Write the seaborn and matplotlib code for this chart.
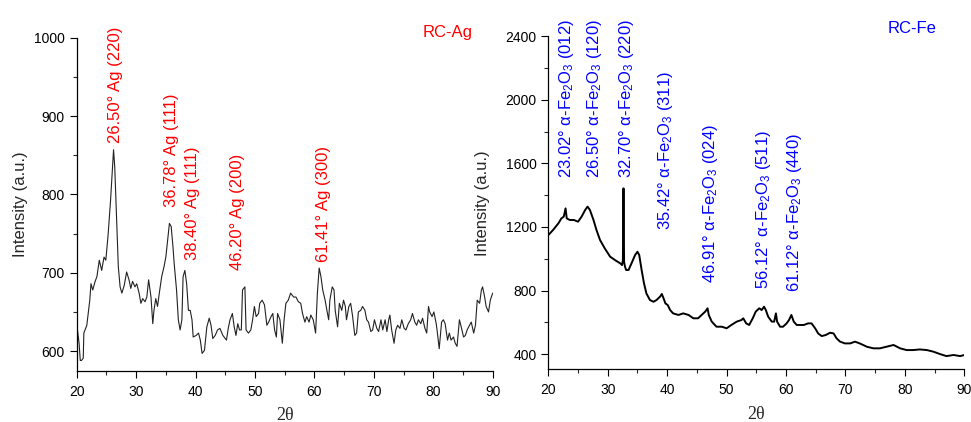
import matplotlib
matplotlib.use("Agg")
import matplotlib.pyplot as plt
from matplotlib.ticker import MultipleLocator
import numpy as np
import pandas as pd
import seaborn as sns

# ---- RC-Ag diffractogram (2θ in degrees, intensity in a.u.) ----
ag_theta = [20.0, 20.4, 20.6, 20.8, 21.1, 21.2, 21.7, 22.2, 22.4, 22.7, 23.1, 23.4, 23.8, 24.2,
            24.6, 24.9, 25.3, 25.7, 26.2, 26.4, 26.7, 27.0, 27.3, 27.6, 28.0, 28.4, 28.8, 29.1,
            29.4, 29.8, 30.1, 30.5, 30.8, 31.1, 31.5, 31.8, 32.1, 32.5, 32.8, 33.0, 33.3, 33.6,
            33.9, 34.3, 34.7, 35.0, 35.3, 35.6, 35.9, 36.2, 36.4, 36.8, 37.1, 37.4, 37.7, 37.9,
            38.2, 38.5, 38.8, 39.1, 39.4, 39.6, 40.1, 40.5, 40.8, 41.1, 41.5, 41.9, 42.3, 42.6,
            42.9, 43.3, 43.7, 44.1, 44.6, 45.2, 45.5, 45.8, 46.2, 46.5, 46.8, 47.1, 47.4, 47.7,
            47.9, 48.3, 48.5, 48.9, 49.3, 49.6, 49.9, 50.2, 50.6, 50.8, 51.2, 51.6, 52.0, 52.3,
            52.7, 53.0, 53.3, 53.6, 53.8, 54.2, 54.6, 54.9, 55.2, 55.6, 56.0, 56.5, 56.9, 57.3,
            57.7, 58.0, 58.4, 58.7, 59.1, 59.4, 59.8, 60.2, 60.5, 60.8, 61.1, 61.4, 61.8, 62.1,
            62.4, 62.6, 63.0, 63.3, 63.5, 63.9, 64.2, 64.6, 64.9, 65.2, 65.4, 65.8, 66.1, 66.4,
            66.8, 67.1, 67.4, 67.8, 68.1, 68.5, 68.8, 69.1, 69.5, 69.8, 70.1, 70.5, 70.8, 71.2,
            71.5, 71.9, 72.2, 72.5, 72.7, 73.0, 73.4, 73.7, 74.0, 74.4, 74.7, 75.1, 75.4, 75.8,
            76.2, 76.5, 76.9, 77.2, 77.5, 77.9, 78.2, 78.6, 78.9, 79.2, 79.4, 79.8, 80.1, 80.5,
            80.7, 81.0, 81.4, 81.7, 82.0, 82.4, 82.7, 83.0, 83.4, 83.7, 84.0, 84.4, 84.7, 85.1,
            85.4, 85.7, 86.1, 86.4, 86.8, 87.1, 87.4, 87.8, 88.1, 88.3, 88.6, 88.9, 89.3, 89.6,
            90.0]
ag_intensity = [635, 610, 588, 588, 591, 623, 633, 665, 686, 678, 689, 695, 716, 703,
                720, 716, 750, 793, 857, 835, 771, 708, 682, 674, 684, 701, 691, 680,
                689, 682, 686, 674, 661, 667, 663, 669, 691, 669, 635, 652, 667, 657,
                674, 695, 708, 720, 742, 763, 759, 733, 712, 678, 640, 627, 640, 695,
                703, 686, 652, 652, 640, 618, 620, 623, 614, 597, 601, 631, 642, 633,
                616, 620, 627, 629, 620, 614, 629, 640, 648, 631, 620, 635, 627, 627,
                678, 682, 627, 623, 627, 640, 657, 644, 648, 661, 665, 659, 633, 637,
                644, 648, 627, 618, 648, 640, 610, 640, 661, 665, 674, 669, 669, 663,
                661, 648, 637, 644, 637, 646, 640, 623, 674, 706, 695, 678, 665, 652,
                640, 665, 682, 678, 652, 631, 661, 652, 665, 657, 640, 657, 661, 646,
                620, 623, 650, 652, 657, 652, 640, 637, 625, 627, 640, 629, 625, 640,
                627, 640, 625, 640, 646, 627, 610, 627, 633, 629, 640, 629, 627, 635,
                640, 648, 637, 633, 640, 635, 642, 629, 623, 657, 650, 644, 650, 635,
                623, 603, 637, 640, 635, 614, 623, 614, 618, 610, 606, 640, 631, 618,
                620, 627, 633, 637, 623, 633, 665, 661, 678, 682, 671, 657, 650, 665,
                674]

# ---- RC-Fe diffractogram ----
fe_theta = [20.0, 20.8, 21.7, 22.2, 22.6, 22.9, 23.1, 23.6, 24.3, 25.0, 25.6, 26.2, 26.6, 27.0,
            27.6, 28.1, 28.7, 29.5, 30.4, 31.2, 32.1, 32.4, 32.55, 32.65, 32.75, 32.9, 33.1,
            33.5, 34.0, 34.6, 35.0, 35.3, 35.7, 36.1, 36.5, 37.1, 37.7, 38.2, 38.8, 39.1, 39.4,
            39.7, 40.1, 40.5, 41.0, 41.9, 42.7, 43.6, 44.4, 45.2, 45.8, 46.4, 46.8, 47.0, 47.5,
            48.3, 49.2, 50.0, 50.8, 51.7, 52.5, 52.8, 53.3, 53.8, 54.4, 54.9, 55.5, 55.9, 56.3,
            56.6, 57.0, 57.6, 58.0, 58.3, 58.5, 59.0, 59.5, 60.1, 60.5, 60.9, 61.3, 61.8, 62.3,
            63.0, 63.7, 64.3, 64.9, 65.4, 66.0, 66.7, 67.4, 68.0, 68.5, 69.1, 69.9, 70.8, 71.6,
            72.4, 73.6, 74.7, 75.8, 76.9, 78.1, 79.2, 80.3, 81.4, 82.5, 83.7, 84.8, 85.9, 87.0,
            88.2, 89.3, 90.0]
fe_intensity = [1149, 1181, 1223, 1254, 1265, 1317, 1254, 1244, 1244, 1233, 1265, 1307, 1328, 1307,
                1244, 1181, 1118, 1065, 1013, 992, 971, 960, 990, 1443, 980, 950, 929,
                929, 971, 1023, 1044, 1023, 929, 845, 782, 740, 729, 740, 761, 778, 750,
                719, 708, 677, 656, 646, 656, 646, 625, 625, 646, 667, 688, 646, 604,
                572, 572, 562, 583, 604, 614, 625, 593, 583, 625, 667, 688, 677, 698,
                677, 635, 604, 604, 656, 604, 572, 572, 593, 614, 646, 604, 583, 583,
                583, 593, 593, 562, 530, 513, 520, 534, 530, 499, 478, 467, 467, 478,
                467, 446, 436, 436, 446, 457, 436, 425, 425, 429, 425, 415, 400, 387,
                394, 387, 394]

# ---- peak annotations: (text, x, y) ----
ag_labels = ["26.50° Ag (220)", "36.78° Ag (111)", "38.40° Ag (111)",
             "46.20° Ag (200)", "61.41° Ag (300)"]
ag_label_x = [26.5, 36.0, 39.5, 47.0, 61.5]
ag_label_y = [865, 784, 716, 703, 714]

fe_labels = ["23.02° α-Fe$_2$O$_3$ (012)", "26.50° α-Fe$_2$O$_3$ (120)",
             "32.70° α-Fe$_2$O$_3$ (220)", "35.42° α-Fe$_2$O$_3$ (311)",
             "46.91° α-Fe$_2$O$_3$ (024)", "56.12° α-Fe$_2$O$_3$ (511)",
             "61.12° α-Fe$_2$O$_3$ (440)"]
fe_label_x = [23.1, 27.7, 33.2, 39.7, 47.3, 56.2, 61.5]
fe_label_y = [1506, 1506, 1506, 1181, 849, 808, 793]

sns.set_style("ticks")
plt.rcParams["font.family"] = ["Liberation Sans", "DejaVu Sans"]
plt.rcParams["mathtext.fontset"] = "custom"
plt.rcParams["mathtext.rm"] = "Liberation Sans"
plt.rcParams["mathtext.it"] = "Liberation Sans:italic"
plt.rcParams["mathtext.bf"] = "Liberation Sans:bold"

fig = plt.figure(figsize=(9.71, 4.22), dpi=100)
ax1 = fig.add_axes([0.079, 0.1216, 0.4284, 0.789])
ax2 = fig.add_axes([0.5647, 0.1249, 0.4284, 0.789])

ag_df = pd.DataFrame({"theta": ag_theta, "intensity": ag_intensity})
fe_df = pd.DataFrame({"theta": fe_theta, "intensity": fe_intensity})

sns.lineplot(data=ag_df, x="theta", y="intensity", ax=ax1, color="#222222",
             linewidth=0.8, estimator=None, sort=False)
sns.lineplot(data=fe_df, x="theta", y="intensity", ax=ax2, color="black",
             linewidth=1.4, estimator=None, sort=False)

for ax, ypad in ((ax1, 4), (ax2, 11)):
    ax.set_xlim(20, 90)
    ax.xaxis.set_major_locator(MultipleLocator(10))
    ax.xaxis.set_minor_locator(MultipleLocator(5))
    sns.despine(ax=ax)
    ax.tick_params(axis="both", which="major", direction="out", length=5,
                   width=0.8, labelsize=10, colors="black")
    ax.tick_params(axis="x", which="major", pad=5)
    ax.tick_params(axis="both", which="minor", direction="out", length=3, width=0.8)
    for s in ("left", "bottom"):
        ax.spines[s].set_linewidth(0.9)
        ax.spines[s].set_color("black")
    ax.set_xlabel("2θ", family=["Liberation Serif", "DejaVu Serif"], fontsize=13, labelpad=6)
    ax.set_ylabel("Intensity (a.u.)", fontsize=12, labelpad=ypad)

ax1.set_ylim(575, 1000)
ax1.yaxis.set_major_locator(MultipleLocator(100))
ax1.yaxis.set_minor_locator(MultipleLocator(50))

ax2.set_ylim(304, 2400)
ax2.yaxis.set_major_locator(MultipleLocator(400))
ax2.yaxis.set_minor_locator(MultipleLocator(200))

for txt, x, y in zip(ag_labels, ag_label_x, ag_label_y):
    ax1.text(x, y, txt, rotation=90, ha="center", va="bottom", color="red",
             fontsize=12, clip_on=False)
for txt, x, y in zip(fe_labels, fe_label_x, fe_label_y):
    ax2.text(x, y, txt, rotation=90, ha="center", va="bottom", color="blue",
             fontsize=12, clip_on=False)

ax1.text(0.8925, 1.017, "RC-Ag", transform=ax1.transAxes, ha="center", va="center",
         color="red", fontsize=12)
ax2.text(0.8736, 1.024, "RC-Fe", transform=ax2.transAxes, ha="center", va="center",
         color="blue", fontsize=12)

fig.savefig("out.png", dpi=100)
